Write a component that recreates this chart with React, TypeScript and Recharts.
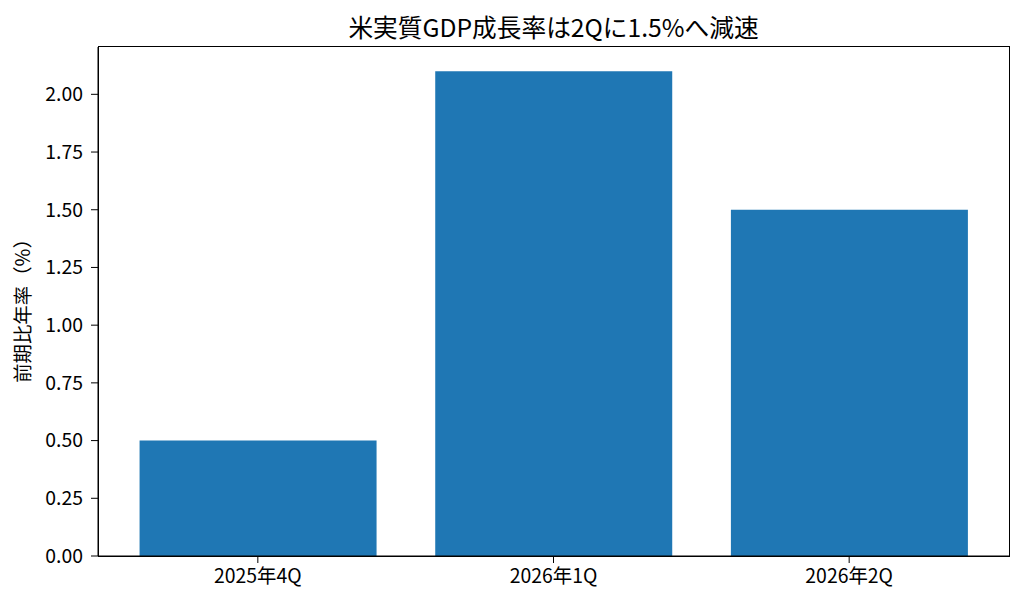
import { BarChart, Bar, XAxis, YAxis } from "recharts";

const quarters = ["2025年4Q", "2026年1Q", "2026年2Q"];
const growthRates = [0.5, 2.1, 1.5];
const yTicks = [0, 0.25, 0.5, 0.75, 1.0, 1.25, 1.5, 1.75, 2.0];

const FONT = "'Noto Sans CJK JP', sans-serif";
const TICK_SIZE = 19.4;

const data = quarters.map((q, i) => ({ quarter: q, rate: growthRates[i] }));

export default function App() {
  return (
    <div style={{ position: "absolute", left: 0, top: 0, width: 1024, height: 607, background: "#fff", fontFamily: FONT }}>
      <div
        style={{
          position: "absolute",
          left: 98,
          width: 911,
          top: 14,
          textAlign: "center",
          fontSize: 24.7,
          color: "#000",
          lineHeight: "24px",
          whiteSpace: "nowrap",
        }}
      >
        米実質GDP成長率は2Qに1.5%へ減速
      </div>
      <div
        style={{
          position: "absolute",
          left: 22,
          top: 306,
          width: 240,
          transform: "translate(-50%, -50%) rotate(-90deg)",
          textAlign: "center",
          fontSize: TICK_SIZE,
          lineHeight: "22px",
          color: "#000",
          whiteSpace: "nowrap",
        }}
      >
        前期比年率（%）
      </div>
      <BarChart
        width={1024}
        height={607}
        data={data}
        margin={{ top: 47, right: 15, bottom: 11, left: 28 }}
        barCategoryGap="10%"
      >
        <XAxis
          dataKey="quarter"
          padding={{ left: 12, right: 12 }}
          tick={{ fill: "#000", fontSize: TICK_SIZE, fontFamily: FONT }}
          tickLine={{ stroke: "#000" }}
          axisLine={{ stroke: "#000" }}
          tickSize={7}
          tickMargin={6}
          height={40}
        />
        <YAxis
          domain={[0, 2.205]}
          ticks={yTicks}
          tickFormatter={(v: number) => v.toFixed(2)}
          tick={{ fill: "#000", fontSize: TICK_SIZE, fontFamily: FONT }}
          tickLine={{ stroke: "#000" }}
          axisLine={{ stroke: "#000" }}
          tickSize={7}
          tickMargin={8}
          width={70}
          allowDataOverflow
        />
        <Bar dataKey="rate" fill="#1f77b4" isAnimationActive={false} />
      </BarChart>
      <div
        style={{
          position: "absolute",
          left: 98,
          top: 46,
          width: 910,
          height: 509,
          border: "1px solid #000",
          pointerEvents: "none",
          boxSizing: "content-box",
        }}
      />
    </div>
  );
}
